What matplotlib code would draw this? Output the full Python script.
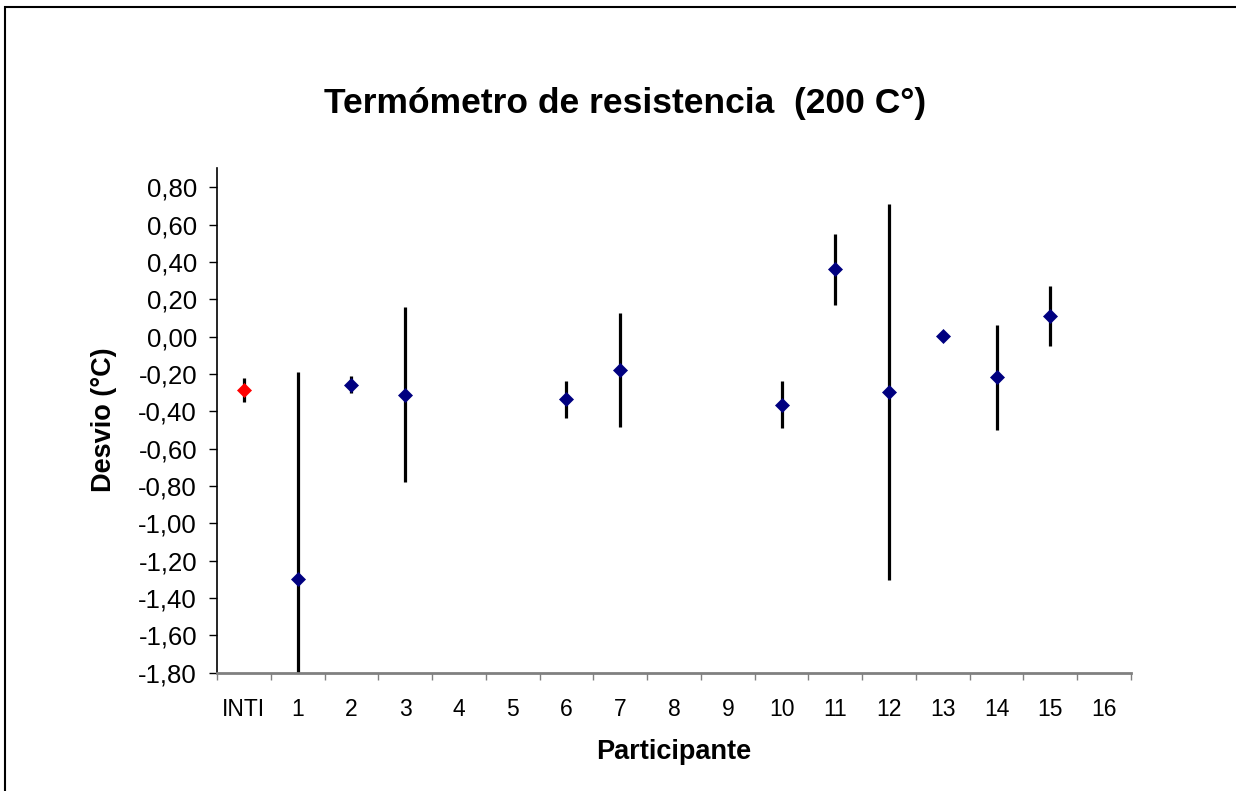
import numpy as np
import matplotlib
matplotlib.use("Agg")
import matplotlib.pyplot as plt
from matplotlib.patches import Rectangle

plt.rcParams['font.family'] = ['Liberation Sans', 'DejaVu Sans']

# Datos
participantes = ['INTI', '1', '2', '3', '4', '5', '6', '7', '8', '9',
                 '10', '11', '12', '13', '14', '15', '16']
desvio = [-0.285, -1.30, -0.257, -0.31, np.nan, np.nan, -0.335, -0.18, np.nan, np.nan,
          -0.364, 0.36, -0.296, 0.005, -0.218, 0.112, np.nan]
incert = [0.063, 1.11, 0.044, 0.47, np.nan, np.nan, 0.10, 0.305, np.nan, np.nan,
          0.125, 0.19, 1.005, 0.0, 0.28, 0.16, np.nan]
y_ticks = [0.8, 0.6, 0.4, 0.2, 0.0, -0.2, -0.4, -0.6, -0.8, -1.0, -1.2, -1.4, -1.6, -1.8]

W, H = 1236, 791
fig = plt.figure(figsize=(W / 100, H / 100), dpi=100)
ax = fig.add_axes([217 / W, 1 - 672.7 / H, (1131 - 217) / W, (672.7 - 168.3) / H])

x = np.arange(len(participantes))
y = np.array(desvio)
e = np.array(incert)

ax.errorbar(x, y, yerr=e, fmt='none', ecolor='black', elinewidth=2.3, capsize=0, zorder=2)
ax.plot(x[1:], y[1:], linestyle='none', marker='D', markersize=7,
        color='#000080', markeredgewidth=0.5, zorder=3)
ax.plot(x[:1], y[:1], linestyle='none', marker='D', markersize=7,
        color='#FF0000', markeredgewidth=0.5, zorder=3)

ax.set_xlim(-0.5, len(participantes) - 0.5)
ax.set_ylim(-1.8, 0.902)

ax.set_yticks(y_ticks)
ax.set_yticklabels([f"{v:.2f}".replace('.', ',') for v in y_ticks], fontsize=18.5)
ax.tick_params(axis='y', direction='out', length=5.8, width=1, pad=8.6, color='black')

ax.set_xticks(np.arange(len(participantes) + 1) - 0.5)
ax.set_xticklabels([])
ax.set_xticks(x, minor=True)
ax.set_xticklabels(participantes, minor=True, fontsize=16.5)
ax.tick_params(axis='x', which='major', direction='out', length=5, width=1, color='#808080')
ax.tick_params(axis='x', which='minor', length=0, pad=18)

for s in ['top', 'right']:
    ax.spines[s].set_visible(False)
ax.spines['left'].set_color('black')
ax.spines['left'].set_linewidth(1.2)
ax.spines['bottom'].set_color('#808080')
ax.spines['bottom'].set_linewidth(2)

fig.text(625 / W, 1 - 104 / H, 'Termómetro de resistencia  (200 C°)',
         ha='center', va='center', fontsize=25.5, fontweight='bold')
fig.text(674 / W, 1 - 752 / H, 'Participante', ha='center', va='center',
         fontsize=19.5, fontweight='bold')
fig.text(104 / W, 1 - 420 / H, 'Desvio (°C)', ha='center', va='center',
         rotation=90, fontsize=19.5, fontweight='bold')

# Marco del gráfico
fig.patches.append(Rectangle((5 / W, -0.1), 1.2, 1 - 7 / H + 0.1, transform=fig.transFigure,
                             fill=False, edgecolor='black', linewidth=1.5))

fig.savefig('out.png', dpi=100)
